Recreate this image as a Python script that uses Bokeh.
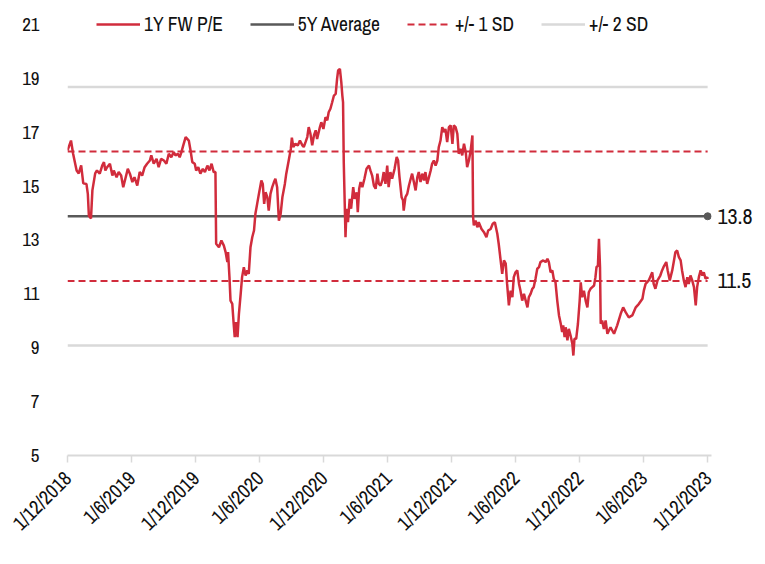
from datetime import datetime, timedelta
from bokeh.plotting import figure
from bokeh.models import Range1d, FixedTicker, CustomJSTickFormatter, LinearAxis
from bokeh.embed import file_html
from bokeh.resources import INLINE

# ---------------- data ----------------
dates = [
    "2018-12-01", "2018-12-11", "2018-12-17", "2018-12-27", "2019-01-02", "2019-01-09", "2019-01-15",
    "2019-01-24", "2019-01-28", "2019-01-31", "2019-02-06", "2019-02-10", "2019-02-18", "2019-02-23",
    "2019-03-03", "2019-03-10", "2019-03-15", "2019-03-19", "2019-03-24", "2019-04-01", "2019-04-08",
    "2019-04-12", "2019-04-20", "2019-04-26", "2019-05-03", "2019-05-09", "2019-05-15", "2019-05-22",
    "2019-05-28", "2019-06-04", "2019-06-10", "2019-06-18", "2019-06-25", "2019-07-02", "2019-07-09",
    "2019-07-16", "2019-07-24", "2019-07-28", "2019-08-04", "2019-08-12", "2019-08-18", "2019-08-25",
    "2019-09-02", "2019-09-09", "2019-09-16", "2019-09-23", "2019-09-30", "2019-10-05", "2019-10-12",
    "2019-10-17", "2019-10-22", "2019-10-27", "2019-11-03", "2019-11-12", "2019-11-17", "2019-11-22",
    "2019-11-29", "2019-12-03", "2019-12-09", "2019-12-15", "2019-12-22", "2019-12-28", "2020-01-04",
    "2020-01-10", "2020-01-16", "2020-01-22", "2020-01-27", "2020-01-29", "2020-02-06", "2020-02-13",
    "2020-02-20", "2020-02-25", "2020-03-01", "2020-03-03", "2020-03-07", "2020-03-10", "2020-03-15",
    "2020-03-19", "2020-03-22", "2020-03-26", "2020-03-30", "2020-04-03", "2020-04-08", "2020-04-12",
    "2020-04-17", "2020-04-22", "2020-04-27", "2020-05-01", "2020-05-06", "2020-05-11", "2020-05-16",
    "2020-05-20", "2020-05-25", "2020-05-30", "2020-06-06", "2020-06-10", "2020-06-14", "2020-06-18",
    "2020-06-23", "2020-06-27", "2020-07-02", "2020-07-07", "2020-07-12", "2020-07-16", "2020-07-21",
    "2020-07-26", "2020-07-31", "2020-08-05", "2020-08-12", "2020-08-16", "2020-08-23", "2020-08-29",
    "2020-09-01", "2020-09-05", "2020-09-11", "2020-09-18", "2020-09-24", "2020-10-01", "2020-10-05",
    "2020-10-10", "2020-10-15", "2020-10-19", "2020-10-24", "2020-10-29", "2020-11-03", "2020-11-08",
    "2020-11-12", "2020-11-20", "2020-11-24", "2020-11-30", "2020-12-06", "2020-12-11", "2020-12-15",
    "2020-12-20", "2020-12-25", "2020-12-30", "2021-01-04", "2021-01-08", "2021-01-11", "2021-01-16",
    "2021-01-20", "2021-01-23", "2021-01-25", "2021-01-27", "2021-02-01", "2021-02-04", "2021-02-08",
    "2021-02-13", "2021-02-17", "2021-02-23", "2021-02-27", "2021-03-05", "2021-03-08", "2021-03-12",
    "2021-03-16", "2021-03-21", "2021-03-27", "2021-04-02", "2021-04-09", "2021-04-13", "2021-04-18",
    "2021-04-23", "2021-04-28", "2021-05-03", "2021-05-07", "2021-05-12", "2021-05-17", "2021-05-21",
    "2021-05-26", "2021-05-31", "2021-06-04", "2021-06-09", "2021-06-14", "2021-06-21", "2021-06-27",
    "2021-07-01", "2021-07-05", "2021-07-11", "2021-07-15", "2021-07-17", "2021-07-22", "2021-07-27",
    "2021-08-01", "2021-08-06", "2021-08-10", "2021-08-15", "2021-08-20", "2021-08-25", "2021-08-29",
    "2021-09-03", "2021-09-08", "2021-09-13", "2021-09-17", "2021-09-22", "2021-09-27", "2021-10-02",
    "2021-10-06", "2021-10-11", "2021-10-16", "2021-10-21", "2021-10-25", "2021-10-30", "2021-11-04",
    "2021-11-09", "2021-11-13", "2021-11-18", "2021-11-23", "2021-11-28", "2021-12-03", "2021-12-07",
    "2021-12-12", "2021-12-17", "2021-12-21", "2021-12-26", "2021-12-31", "2022-01-05", "2022-01-10",
    "2022-01-14", "2022-01-19", "2022-01-24", "2022-01-29", "2022-01-31", "2022-02-02", "2022-02-07",
    "2022-02-12", "2022-02-16", "2022-02-24", "2022-03-03", "2022-03-10", "2022-03-15", "2022-03-22",
    "2022-03-28", "2022-04-03", "2022-04-10", "2022-04-14", "2022-04-19", "2022-04-24", "2022-04-29",
    "2022-05-04", "2022-05-08", "2022-05-13", "2022-05-18", "2022-05-23", "2022-05-27", "2022-06-01",
    "2022-06-06", "2022-06-11", "2022-06-15", "2022-06-20", "2022-06-25", "2022-06-30", "2022-07-05",
    "2022-07-09", "2022-07-14", "2022-07-19", "2022-07-23", "2022-07-28", "2022-08-02", "2022-08-07",
    "2022-08-11", "2022-08-19", "2022-08-26", "2022-08-31", "2022-09-04", "2022-09-09", "2022-09-14",
    "2022-09-18", "2022-09-23", "2022-09-28", "2022-10-03", "2022-10-08", "2022-10-12", "2022-10-15",
    "2022-10-19", "2022-10-22", "2022-10-27", "2022-10-31", "2022-11-05", "2022-11-10", "2022-11-13",
    "2022-11-16", "2022-11-21", "2022-11-26", "2022-12-01", "2022-12-04", "2022-12-08", "2022-12-13",
    "2022-12-18", "2022-12-23", "2022-12-27", "2023-01-01", "2023-01-06", "2023-01-11", "2023-01-15",
    "2023-01-18", "2023-01-22", "2023-01-25", "2023-01-28", "2023-01-30", "2023-02-03", "2023-02-08",
    "2023-02-13", "2023-02-18", "2023-02-27", "2023-03-09", "2023-03-18", "2023-03-28", "2023-04-04",
    "2023-04-11", "2023-04-20", "2023-04-30", "2023-05-10", "2023-05-19", "2023-05-29", "2023-06-02",
    "2023-06-07", "2023-06-16", "2023-06-26", "2023-06-30", "2023-07-05", "2023-07-11", "2023-07-19",
    "2023-07-24", "2023-07-28", "2023-08-05", "2023-08-09", "2023-08-15", "2023-08-22", "2023-08-27",
    "2023-08-31", "2023-09-05", "2023-09-10", "2023-09-15", "2023-09-19", "2023-09-24", "2023-09-29",
    "2023-10-04", "2023-10-08", "2023-10-13", "2023-10-18", "2023-10-23", "2023-10-28", "2023-11-01",
    "2023-11-06", "2023-11-11", "2023-11-16", "2023-11-20", "2023-11-25", "2023-11-30", "2023-12-01",
]
pe = [
    16.32, 16.69, 16.20, 15.58, 15.47, 15.77, 15.10,
    15.08, 14.71, 13.90, 13.80, 14.84, 15.47, 15.58,
    15.46, 15.76, 15.89, 15.58, 15.70, 15.83, 15.39,
    15.58, 15.33, 15.52, 15.39, 14.96, 15.27, 15.64,
    15.46, 15.15, 15.33, 15.02, 15.52, 15.39, 15.70,
    15.83, 15.95, 16.14, 15.83, 16.01, 15.70, 16.01,
    15.95, 15.83, 16.20, 16.07, 16.26, 16.14, 16.20,
    16.07, 16.26, 16.50, 16.82, 16.69, 16.32, 15.89,
    15.83, 15.58, 15.70, 15.46, 15.64, 15.52, 15.76,
    15.58, 15.83, 15.52, 15.52, 12.86, 12.73, 12.98,
    12.79, 12.55, 12.18, 12.55, 11.62, 10.75, 10.63,
    9.89, 9.39, 9.95, 9.39, 10.26, 11.00, 11.62,
    11.99, 11.68, 11.87, 11.74, 12.73, 13.10, 13.35,
    13.97, 14.34, 14.71, 15.21, 15.08, 14.34, 14.77,
    14.59, 14.09, 14.71, 14.96, 15.15, 15.27, 14.96,
    13.72, 13.97, 14.59, 15.08, 15.46, 15.95, 16.38,
    16.80, 16.45, 16.57, 16.51, 16.69, 16.51, 16.45,
    16.63, 16.82, 17.19, 16.94, 16.51, 16.88, 17.07,
    16.75, 17.19, 17.37, 17.12, 17.56, 17.44, 17.74,
    17.87, 18.11, 18.36, 18.42, 18.98, 19.29, 19.35,
    18.86, 18.36, 18.11, 15.90, 13.10, 14.16, 13.66,
    14.53, 14.16, 14.96, 14.53, 14.77, 14.03, 14.90,
    15.15, 14.96, 15.27, 15.64, 15.76, 15.58, 15.39,
    15.02, 14.90, 15.46, 15.08, 15.02, 15.21, 15.52,
    15.08, 15.76, 14.96, 15.52, 15.27, 15.64, 16.08,
    15.95, 15.33, 14.59, 14.47, 14.09, 14.59, 14.71,
    15.02, 15.27, 15.46, 15.15, 14.84, 15.33, 15.52,
    15.15, 15.46, 15.21, 15.52, 15.08, 15.33, 15.58,
    15.83, 15.95, 15.76, 15.95, 16.44, 16.69, 17.19,
    17.00, 17.12, 16.63, 17.19, 17.25, 16.57, 17.25,
    17.19, 16.94, 16.20, 16.38, 16.14, 16.57, 16.26,
    15.70, 15.95, 16.32, 16.88, 13.85, 13.54, 13.72,
    13.47, 13.66, 13.41, 13.29, 13.10, 13.35, 13.41,
    13.60, 13.66, 13.23, 12.86, 12.30, 11.74, 12.24,
    12.12, 11.37, 10.57, 11.12, 10.88, 11.62, 11.80,
    11.87, 11.37, 11.12, 10.75, 11.00, 10.75, 10.50,
    10.88, 11.00, 11.19, 11.25, 11.56, 11.93, 11.99,
    12.18, 12.24, 12.18, 12.30, 12.18, 11.80, 11.87,
    11.56, 11.43, 10.75, 10.20, 9.89, 9.58, 9.83,
    9.39, 9.76, 9.27, 9.70, 9.45, 9.15, 8.71,
    9.33, 9.33, 9.89, 10.75, 11.43, 10.88, 11.12,
    10.75, 10.50, 11.06, 11.19, 11.25, 11.31, 11.62,
    11.99, 12.05, 13.04, 11.99, 9.89, 10.01, 9.70,
    10.01, 9.52, 9.76, 9.52, 9.83, 10.26, 10.50,
    10.32, 10.13, 10.20, 10.50, 10.63, 10.82, 11.12,
    11.37, 11.50, 11.80, 11.37, 11.19, 11.50, 11.68,
    11.87, 11.99, 12.18, 11.87, 11.50, 11.87, 12.24,
    12.55, 12.61, 12.36, 12.24, 11.87, 11.50, 11.25,
    11.62, 11.37, 11.68, 11.50, 11.25, 10.57, 11.25,
    11.62, 11.87, 11.68, 11.80, 11.56, 11.62, 11.55,
]

avg_5y = 13.88
sd1_upper = 16.28
sd1_lower = 11.48
sd2_upper = 18.68
sd2_lower = 9.08
band_dates = ["2018-12-01", "2023-12-01"]

series_names = ["1Y FW P/E", "5Y Average", "+/- 1 SD", "+/- 2 SD"]
end_labels = ["13.8", "11.5"]

y_ticks = [5, 7, 9, 11, 13, 15, 17, 19, 21]
x_tick_dates = ["2018-12-01", "2019-06-01", "2019-12-01", "2020-06-01", "2020-12-01",
                "2021-06-01", "2021-12-01", "2022-06-01", "2022-12-01", "2023-06-01", "2023-12-01"]
x_tick_labels = ["1/12/2018", "1/6/2019", "1/12/2019", "1/6/2020", "1/12/2020",
                 "1/6/2021", "1/12/2021", "1/6/2022", "1/12/2022", "1/6/2023", "1/12/2023"]

# ---------------- styling ----------------
RED = "#d12c3c"
DARK = "#595959"
LIGHT = "#d9d9d9"
FONT = "Archivo Narrow"


def to_dt(s):
    return datetime.strptime(s, "%Y-%m-%d")


xs = [to_dt(d) for d in dates]
bx = [to_dt(d) for d in band_dates]
tick_ms = [(to_dt(d) - datetime(1970, 1, 1)).total_seconds() * 1000 for d in x_tick_dates]

p = figure(
    x_axis_type="datetime",
    frame_width=644, frame_height=444,
    min_border_left=67, min_border_right=46, min_border_top=11, min_border_bottom=101,
    x_range=Range1d(to_dt("2018-12-01"), to_dt("2023-12-01") + timedelta(days=11)),
    y_range=Range1d(5, 21.48),
    output_backend="svg", toolbar_location=None,
)
p.outline_line_color = None
p.xgrid.visible = False
p.ygrid.visible = False
p.background_fill_color = "white"
p.border_fill_color = "white"

# +/- 2 SD
p.line(bx, [sd2_upper, sd2_upper], line_color=LIGHT, line_width=2.5, legend_label=series_names[3])
p.line(bx, [sd2_lower, sd2_lower], line_color=LIGHT, line_width=2.5)
# +/- 1 SD
p.line(bx, [sd1_upper, sd1_upper], line_color=RED, line_width=2, line_dash="7 4", legend_label=series_names[2])
p.line(bx, [sd1_lower, sd1_lower], line_color=RED, line_width=2, line_dash="7 4")
# 5Y average
p.line(bx, [avg_5y, avg_5y], line_color=DARK, line_width=2.5, legend_label=series_names[1])
p.scatter([bx[1]], [avg_5y], size=7, fill_color=DARK, line_color=DARK)
# series
p.line(xs, pe, line_color=RED, line_width=2.5, legend_label=series_names[0])

# end labels as a right-hand axis
right = LinearAxis(
    ticker=FixedTicker(ticks=[avg_5y, sd1_lower]),
    formatter=CustomJSTickFormatter(args=dict(labels=end_labels), code="return labels[index] || '';"),
)
right.axis_line_color = None
right.major_tick_line_color = None
right.minor_tick_line_color = None
right.major_label_standoff = 0
right.major_label_text_font = FONT
right.major_label_text_font_size = "22px"
right.major_label_text_color = "#111111"
p.add_layout(right, "right")

# axes
p.yaxis[0].ticker = FixedTicker(ticks=y_ticks)
p.yaxis[0].axis_line_color = None
p.yaxis[0].major_tick_line_color = None
p.yaxis[0].minor_tick_line_color = None
p.yaxis[0].major_label_standoff = 22
p.yaxis[0].major_label_text_font = FONT
p.yaxis[0].major_label_text_font_size = "19px"
p.yaxis[0].major_label_text_color = "#111111"

p.xaxis.ticker = FixedTicker(ticks=tick_ms)
p.xaxis.formatter = CustomJSTickFormatter(args=dict(labels=x_tick_labels),
                                          code="return labels[index] || '';")
p.xaxis.axis_line_color = LIGHT
p.xaxis.axis_line_width = 2
p.xaxis.major_tick_line_color = LIGHT
p.xaxis.major_tick_line_width = 1.5
p.xaxis.major_tick_out = 7
p.xaxis.major_tick_in = 0
p.xaxis.minor_tick_line_color = None
p.xaxis.major_label_orientation = 0.785398
p.xaxis.major_label_standoff = 12
p.xaxis.major_label_text_font = FONT
p.xaxis.major_label_text_font_size = "20px"
p.xaxis.major_label_text_color = "#111111"

# legend
lg = p.legend[0]
lg.items = list(reversed(lg.items))
lg.orientation = "horizontal"
lg.location = (29, 418)
lg.padding = 0
lg.margin = 0
lg.spacing = 27
lg.glyph_width = 44
lg.glyph_height = 20
lg.label_standoff = 4
lg.label_text_font = FONT
lg.label_text_font_size = "19.5px"
lg.label_text_color = "#111111"
lg.background_fill_alpha = 0
lg.border_line_alpha = 0

open("out.html", "w").write(file_html(p, INLINE))
